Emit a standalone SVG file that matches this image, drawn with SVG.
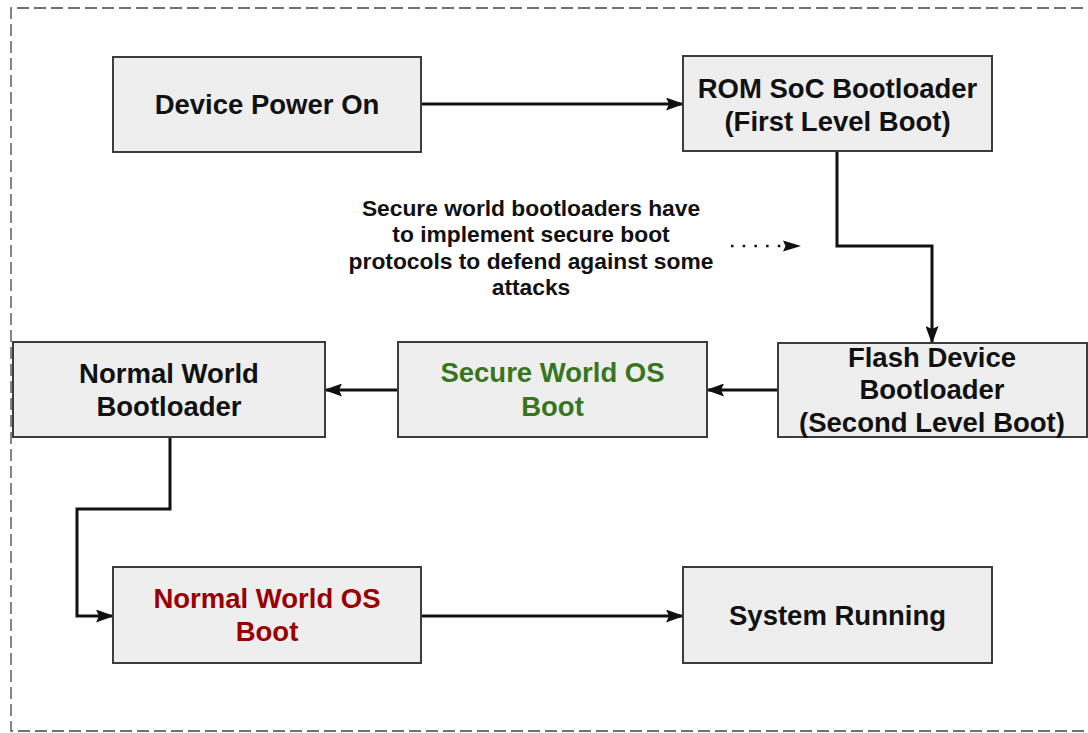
<svg xmlns="http://www.w3.org/2000/svg" width="1088" height="733" viewBox="0 0 1088 733">
  <style>
    .box { fill: #eeeeee; stroke: #3c3c3c; stroke-width: 2; }
    .lbl { font-family: "Liberation Sans", Arial, sans-serif; font-weight: bold; font-size: 27.5px; text-anchor: middle; fill: #111111; }
    .note { font-family: "Liberation Sans", Arial, sans-serif; font-weight: bold; font-size: 22.8px; text-anchor: middle; fill: #111111; }
    .green { fill: #38761d; }
    .red { fill: #990000; }
    .wire { fill: none; stroke: #111111; stroke-width: 3; }
    .dots { fill: none; stroke: #111111; stroke-width: 2.5; stroke-dasharray: 2.5 9.2; }
  </style>
  <defs>
    <!-- solid arrowhead with a slightly notched back, tip on the path end -->
    <marker id="arrow" viewBox="0 0 18 13" refX="17" refY="6.5" markerWidth="18" markerHeight="13" markerUnits="userSpaceOnUse" orient="auto">
      <path d="M0,0 L18,6.5 L0,13 L3,6.5 Z" fill="#111111"/>
    </marker>
  </defs>

  <rect width="1088" height="733" fill="#ffffff"/>

  <!-- dashed frame around the whole flow -->
  <path d="M1100,8 L11,8 L11,731 L1100,731" fill="none" stroke="#444444" stroke-width="1.3" stroke-dasharray="12 5"/>

  <g id="connectors">
    <path class="wire" d="M421,104 L683,104" marker-end="url(#arrow)"/>
    <path class="wire" d="M837,151 L837,246 L932,246 L932,343" marker-end="url(#arrow)"/>
    <path class="wire" d="M778,390 L707,390" marker-end="url(#arrow)"/>
    <path class="wire" d="M397,390 L325,390" marker-end="url(#arrow)"/>
    <path class="wire" d="M170,437 L170,509 L77,509 L77,616 L113,616" marker-end="url(#arrow)"/>
    <path class="wire" d="M421,616 L683,616" marker-end="url(#arrow)"/>
    <path class="dots" d="M731,246 L784,246"/>
    <path d="M783,240.5 L801,246 L783,251.5 L785.5,246 Z" fill="#111111"/>
  </g>

  <g id="device-power-on">
    <rect class="box" x="113" y="57" width="308" height="95"/>
    <text class="lbl" x="267" y="114">Device Power On</text>
  </g>

  <g id="rom-soc-bootloader">
    <rect class="box" x="683" y="56" width="309" height="95"/>
    <text class="lbl" x="837.5" y="98">ROM SoC Bootloader</text>
    <text class="lbl" x="837.5" y="131">(First Level Boot)</text>
  </g>

  <g id="secure-boot-note">
    <text class="note" x="531" y="216">Secure world bootloaders have</text>
    <text class="note" x="531" y="242">to implement secure boot</text>
    <text class="note" x="531" y="269">protocols to defend against some</text>
    <text class="note" x="531" y="295">attacks</text>
  </g>

  <g id="flash-device-bootloader">
    <rect class="box" x="778" y="343" width="309" height="94"/>
    <text class="lbl" x="932" y="367">Flash Device</text>
    <text class="lbl" x="932" y="399">Bootloader</text>
    <text class="lbl" x="932" y="432">(Second Level Boot)</text>
  </g>

  <g id="secure-world-os-boot">
    <rect class="box" x="398" y="342" width="309" height="95"/>
    <text class="lbl green" x="552.5" y="382">Secure World OS</text>
    <text class="lbl green" x="552.5" y="416">Boot</text>
  </g>

  <g id="normal-world-bootloader">
    <rect class="box" x="13" y="342" width="312" height="95"/>
    <text class="lbl" x="169" y="383">Normal World</text>
    <text class="lbl" x="169" y="416">Bootloader</text>
  </g>

  <g id="normal-world-os-boot">
    <rect class="box" x="113" y="567" width="308" height="96"/>
    <text class="lbl red" x="267" y="608">Normal World OS</text>
    <text class="lbl red" x="267" y="641">Boot</text>
  </g>

  <g id="system-running">
    <rect class="box" x="683" y="567" width="309" height="96"/>
    <text class="lbl" x="837.5" y="625">System Running</text>
  </g>
</svg>
